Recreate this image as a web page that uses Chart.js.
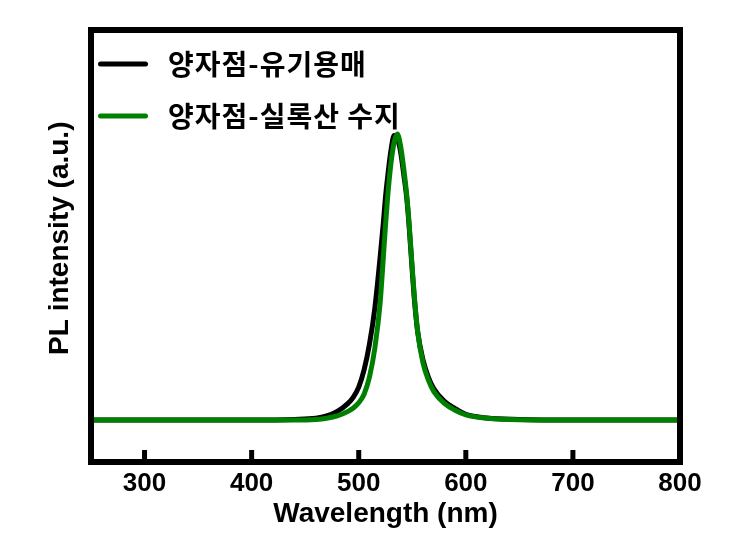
<!DOCTYPE html>
<html><head><meta charset="utf-8">
<script src="https://cdn.jsdelivr.net/npm/chart.js@4/dist/chart.umd.min.js"></script>
<style>html,body{margin:0;padding:0;background:#fff;}#wrap{width:730px;height:542px;}</style>
</head><body><div id="wrap"><canvas id="c" width="730" height="542"></canvas></div>
<script>
const wavelengths = [250, 300, 350, 400, 440, 460, 470, 480, 490, 495, 500, 505, 510, 515, 520, 523, 525, 527, 530, 533, 536, 539, 542, 545, 547, 550, 552, 555, 560, 565, 570, 580, 590, 600, 620, 650, 700, 750, 800];
const intensityOrganic = [0, 0, 0, 0, 0.002, 0.006, 0.014, 0.03, 0.058, 0.08, 0.115, 0.175, 0.265, 0.39, 0.57, 0.69, 0.78, 0.85, 0.94, 0.995, 0.985, 0.94, 0.86, 0.77, 0.68, 0.52, 0.42, 0.31, 0.21, 0.15, 0.11, 0.065, 0.04, 0.02, 0.007, 0.002, 0, 0, 0];
const intensitySiloxane = [0, 0, 0, 0, 0, 0.002, 0.006, 0.014, 0.03, 0.042, 0.06, 0.09, 0.15, 0.25, 0.41, 0.57, 0.68, 0.78, 0.895, 0.97, 1.0, 0.96, 0.88, 0.78, 0.69, 0.53, 0.43, 0.31, 0.20, 0.14, 0.10, 0.058, 0.034, 0.018, 0.006, 0.001, 0, 0, 0];
const xTickValues = [300, 400, 500, 600, 700, 800];
const seriesLabels = ['양자점-유기용매', '양자점-실록산 수지'];
const seriesColors = ['#000000', '#008000'];
const xTitle = 'Wavelength (nm)';
const yTitle = '  PL intensity (a.u.)';
const axisFont = '"Liberation Sans", Arial, sans-serif';

const toXY = (vals) => wavelengths.map((w, i) => ({x: w, y: vals[i]}));

const framePlugin = {
  id: 'frameLegend',
  afterDatasetsDraw(chart) {
    const {ctx, chartArea: {left, right, top, bottom}, scales: {x}} = chart;
    ctx.save();
    ctx.strokeStyle = '#000';
    ctx.lineWidth = 5;
    ctx.lineCap = 'butt';
    x.ticks.forEach(t => {
      const px = x.getPixelForValue(t.value);
      ctx.beginPath(); ctx.moveTo(px, bottom); ctx.lineTo(px, bottom - 12); ctx.stroke();
    });
    ctx.lineWidth = 6;
    ctx.lineJoin = 'miter';
    ctx.strokeRect(left, top, right - left, bottom - top);
    chart.data.datasets.forEach((ds, i) => {
      const y = top + 34 + i * 52;
      ctx.strokeStyle = ds.borderColor;
      ctx.lineWidth = 5;
      ctx.lineCap = 'round';
      ctx.beginPath(); ctx.moveTo(left + 9.5, y); ctx.lineTo(left + 54.5, y); ctx.stroke();
      ctx.fillStyle = '#000';
      ctx.font = 'bold 28px "Noto Sans CJK KR"';
      if ('letterSpacing' in ctx) ctx.letterSpacing = '1px';
      ctx.textBaseline = 'middle';
      ctx.textAlign = 'left';
      ctx.fillText(ds.label, left + 77, y);
    });
    ctx.restore();
  }
};

new Chart(document.getElementById('c'), {
  type: 'line',
  data: {
    datasets: [
      {label: seriesLabels[0], data: toXY(intensityOrganic), borderColor: seriesColors[0], borderWidth: 5, pointRadius: 0, cubicInterpolationMode: 'monotone', fill: false, order: 2},
      {label: seriesLabels[1], data: toXY(intensitySiloxane), borderColor: seriesColors[1], borderWidth: 5, pointRadius: 0, cubicInterpolationMode: 'monotone', fill: false, order: 1}
    ]
  },
  options: {
    responsive: false,
    animation: false,
    devicePixelRatio: 1,
    layout: {padding: {top: 30, right: 50, left: 0, bottom: 0}},
    plugins: {legend: {display: false}, tooltip: {enabled: false}},
    scales: {
      x: {
        type: 'linear', min: 250, max: 800,
        afterBuildTicks: (s) => { s.ticks = xTickValues.map(v => ({value: v})); },
        afterFit: (s) => { s.height = 80; },
        grid: {display: false, drawTicks: false},
        border: {display: false},
        ticks: {color: '#000', padding: 6, maxRotation: 0, font: {family: axisFont, size: 26, weight: 'bold'}},
        title: {display: true, text: xTitle, color: '#000', padding: {top: 0, bottom: 11}, font: {family: axisFont, size: 28, weight: 'bold'}}
      },
      y: {
        min: -0.147, max: 1.364,
        afterFit: (s) => { s.width = 91; },
        grid: {display: false, drawTicks: false},
        border: {display: false},
        ticks: {display: false},
        title: {display: true, text: yTitle, color: '#000', padding: {top: 43, bottom: 0}, font: {family: axisFont, size: 28, weight: 'bold'}}
      }
    }
  },
  plugins: [framePlugin]
});
</script>
</body></html>
